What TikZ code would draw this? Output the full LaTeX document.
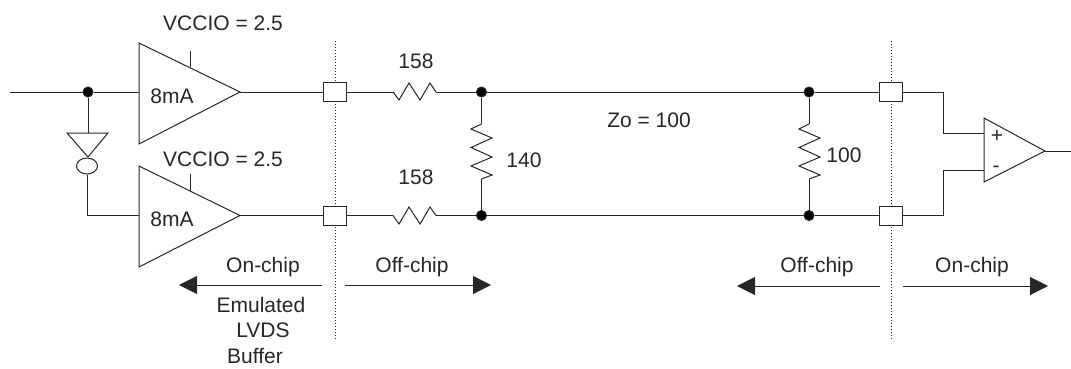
\documentclass[tikz,border=0pt]{standalone}
\usepackage{fontspec}
\setmainfont{Liberation Sans}
\usetikzlibrary{arrows.meta, shapes.geometric}
\tikzset{%
    every node/.style={circle, fill, draw, inner sep=0pt, minimum size=10pt},
    txt/.style={draw=none, fill=none, rectangle, minimum size=0pt,
    	text=black!85, font=\fontsize{21}{25}\selectfont},
    pad/.style={rectangle, fill=white, draw, minimum width=23pt, minimum height=19pt},
    cut/.style={dotted, line width=1pt},
    big/.style={-{Triangle[length=18pt,width=18pt]}}
}

\begin{document}
\begin{tikzpicture}[x=1pt, y=-1pt, line width=1pt, draw=black!85]
  \useasboundingbox (0,0) rectangle (1071,368);

  % chip boundaries
  \coordinate (cl0) at (335,41);
  \coordinate (cl1) at (335,340);
  \coordinate (cr0) at (891,41);
  \coordinate (cr1) at (891,340);
  \draw [cut] (cl0) -- (cl1);
  \draw [cut] (cr0) -- (cr1);

  % driver side
  \coordinate (in) at (10,92);
  \node (j0) at (88,92) {};
  \coordinate (a1l) at (139,92);
  \coordinate (a1r) at (240,92);
  \coordinate (a2l) at (139,215.5);
  \coordinate (a2r) at (240,215.5);
  \draw (139,43) -- (a1r) -- (139,144) -- cycle;
  \draw (139,166) -- (a2r) -- (139,267) -- cycle;
  \draw (190,51) -- (190,67);
  \draw (190,174) -- (190,191);
  \coordinate (invt) at (88,133);
  \node (invb) [ellipse, fill=none, minimum width=21pt, minimum height=16pt] at (87,166) {};
  \draw (67,133) -- (108,133) -- (88,157) -- cycle;

  \node (p1) [pad] at (335,92) {};
  \node (p2) [pad] at (335,215.5) {};
  \node (p3) [pad] at (891,92) {};
  \node (p4) [pad] at (891,215.5) {};

  \node (j1) at (481.5,92) {};
  \node (j2) at (481.5,215.5) {};
  \node (j3) at (809,92) {};
  \node (j4) at (809,215.5) {};

  % series resistors
  \coordinate (r1a) at (393,92);
  \coordinate (r1b) at (436,92);
  \coordinate (r2a) at (393,215.5);
  \coordinate (r2b) at (436,215.5);
  \draw (r1a) -- (399,100) -- (409,83) -- (420,100) -- (430,83) -- (r1b);
  \draw (r2a) -- (399,224) -- (409,207) -- (420,224) -- (430,207) -- (r2b);

  % shunt resistors
  \coordinate (s1a) at (481.5,124);
  \coordinate (s1b) at (481.5,179);
  \coordinate (s2a) at (809,124);
  \coordinate (s2b) at (809,179);
  \draw (s1a) -- (471,129) -- (492,138) -- (471,147.5) -- (492,157) -- (471,166) -- (492,175) -- (s1b);
  \draw (s2a) -- (799,129) -- (820,138) -- (799,147.5) -- (820,157) -- (799,166) -- (820,175) -- (s2b);

  % receiver
  \coordinate (rp) at (984,133);
  \coordinate (rn) at (984,170);
  \coordinate (rt) at (1045,151);
  \coordinate (out) at (1071,151);
  \coordinate (k1) at (943,92);
  \coordinate (k2) at (943,215.5);
  \draw (984,118) -- (rt) -- (984,182) -- cycle;

  \draw (in) edge (j0);
  \draw (j0) edge (a1l);
  \draw (j0) edge (invt);
  \draw (invb) |- (a2l);
  \draw (a1r) edge (p1);
  \draw (a2r) edge (p2);
  \draw (p1) edge (r1a);
  \draw (p2) edge (r2a);
  \draw (r1b) edge (j1);
  \draw (r2b) edge (j2);
  \draw (j1) edge (s1a);
  \draw (s1b) edge (j2);
  \draw (j1) edge (j3);
  \draw (j2) edge (j4);
  \draw (j3) edge (s2a);
  \draw (s2b) edge (j4);
  \draw (j3) edge (p3);
  \draw (j4) edge (p4);
  \draw (p3) -- (k1) |- (rp);
  \draw (p4) -- (k2) |- (rn);
  \draw (rt) edge (out);

  % direction arrows
  \coordinate (b1s) at (322,285);
  \coordinate (b1e) at (179,285);
  \coordinate (b2s) at (345,285);
  \coordinate (b2e) at (491,285);
  \coordinate (b3s) at (880,286);
  \coordinate (b3e) at (737,286);
  \coordinate (b4s) at (903,286);
  \coordinate (b4e) at (1048,286);
  \draw [big] (b1s) -- (b1e);
  \draw [big] (b2s) -- (b2e);
  \draw [big] (b3s) -- (b3e);
  \draw [big] (b4s) -- (b4e);

  \node (vc1) [txt] at (223,23) {VCCIO = 2.5};
  \node (vc2) [txt] at (223,159) {VCCIO = 2.5};
  \node (ma1) [txt] at (172,96) {8mA};
  \node (ma2) [txt] at (172,219) {8mA};
  \node (r1) [txt] at (416,61) {158};
  \node (r2) [txt] at (416,177) {158};
  \node (r3) [txt] at (524,160) {140};
  \node (r4) [txt] at (844,155) {100};
  \node (zo) [txt] at (649,120) {Zo = 100};
  \node (plus) [txt] at (997,136) {+};
  \node (minus) [txt] at (996,169) {-};
  \node (on1) [txt] at (263,267) {On-chip};
  \node (of1) [txt] at (412,267) {Off-chip};
  \node (of2) [txt] at (817,267) {Off-chip};
  \node (on2) [txt] at (972,267) {On-chip};
  \node (em) [txt] at (261,305) {Emulated};
  \node (lv) [txt] at (263,330) {LVDS};
  \node (bu) [txt] at (255,356) {Buffer};
\end{tikzpicture}
\end{document}
